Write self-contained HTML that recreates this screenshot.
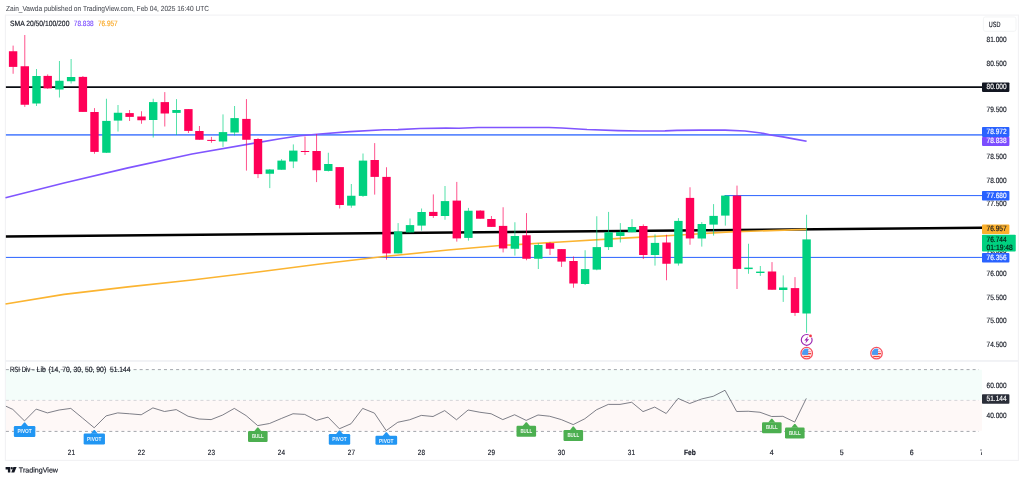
<!DOCTYPE html>
<html lang="en"><head><meta charset="utf-8"><title>TradingView chart snapshot</title>
<style>html,body{margin:0;padding:0;background:#fff;}body{width:1024px;height:480px;overflow:hidden;font-family:'Liberation Sans', Arial, sans-serif;}svg{display:block;position:absolute;left:0;top:0;}text{font-family:'Liberation Sans', Arial, sans-serif;white-space:pre;}</style></head><body>
<svg width="1024" height="480" viewBox="0 0 1024 480">
<rect x="0" y="0" width="1024" height="480" fill="#ffffff"/>
<text x="6" y="11" font-size="7.4" fill="#474a52" stroke="#474a52" stroke-width="0.05" text-anchor="start" font-weight="normal" transform="rotate(0.03 6 11)" textLength="203" lengthAdjust="spacingAndGlyphs">Zain_Vawda published on TradingView.com, Feb 04, 2025 16:40 UTC</text>
<rect x="5.4" y="15.1" width="1013" height="445.3" fill="none" stroke="#f2f2f4" stroke-width="1.1"/>
<rect x="5.4" y="360" width="1013" height="1.9" fill="#f1f2f5"/>
<rect x="5.9" y="369.75" width="976" height="30.5" fill="#f4fdfa"/>
<rect x="5.9" y="400.25" width="976" height="30.5" fill="#fef8f7"/>
<g fill="none" stroke-width="0.72">
<line x1="5.9" y1="369.6" x2="979" y2="369.6" stroke="#82858d" stroke-dasharray="3.0 3.08"/>
<line x1="5.9" y1="400.4" x2="979" y2="400.4" stroke="#c4c6cc" stroke-dasharray="3.0 3.08"/>
<line x1="5.9" y1="431.42" x2="979" y2="431.42" stroke="#82858d" stroke-dasharray="3.0 3.08"/>
</g>
<line x1="5.9" y1="87.1" x2="982" y2="87.1" stroke="#0a0c12" stroke-width="1.6"/>
<line x1="5.9" y1="134.8" x2="982" y2="134.8" stroke="#5f8bff" stroke-width="1.75"/>
<line x1="724.5" y1="195.6" x2="982" y2="195.6" stroke="#2962ff" stroke-width="1.0"/>
<line x1="5.9" y1="257.4" x2="982" y2="257.4" stroke="#2962ff" stroke-width="1.0"/>
<line x1="5.9" y1="236.6" x2="982" y2="227.8" stroke="#000000" stroke-width="2.5"/>
<polyline points="5.5,197.75 64,183 128,167.9 192,154 256,142.9 280,138.8 300,135.8 320,134 350,131.6 384,129.75 398,129.6 420,128.5 446,128.1 459,128.25 478,127.5 512,127.45 549,127.5 562,128 587,129.5 618,130.6 640,131 665,130.9 677,130.4 700,130.1 725,130.1 745,131 761,133 772,135.25 783,136.9 795,139.1 806.6,141.25" fill="none" stroke="#8055ff" stroke-width="1.65" stroke-linejoin="round" stroke-linecap="butt"/>
<polyline points="5.5,304 64,294.4 128,286.9 192,280 256,272.25 320,264 384,256.5 448,250 500,245.5 560,242 624,238.1 680,235 730,231.9 806.6,229.3" fill="none" stroke="#fbb431" stroke-width="1.7" stroke-linejoin="round" stroke-linecap="butt"/>
<g>
<rect x="12.65" y="45.6" width="0.9" height="28.15" fill="#FF0057" opacity="0.75"/>
<rect x="8.90" y="51.25" width="8.4" height="15.65" fill="#FF0057"/>
<rect x="24.35" y="35.0" width="0.9" height="71.90" fill="#FF0057" opacity="0.75"/>
<rect x="20.60" y="66.25" width="8.4" height="38.50" fill="#FF0057"/>
<rect x="36.05" y="69.0" width="0.9" height="37.00" fill="#00D180" opacity="0.75"/>
<rect x="32.30" y="76.0" width="8.4" height="27.50" fill="#00D180"/>
<rect x="47.25" y="74.4" width="0.9" height="14.40" fill="#FF0057" opacity="0.75"/>
<rect x="43.50" y="75.9" width="8.4" height="12.50" fill="#FF0057"/>
<rect x="58.95" y="61.0" width="0.9" height="36.50" fill="#00D180" opacity="0.75"/>
<rect x="55.20" y="80.75" width="8.4" height="8.75" fill="#00D180"/>
<rect x="70.65" y="59.0" width="0.9" height="24.50" fill="#00D180" opacity="0.75"/>
<rect x="66.90" y="77.0" width="8.4" height="4.25" fill="#00D180"/>
<rect x="82.45" y="76.0" width="0.9" height="35.90" fill="#FF0057" opacity="0.75"/>
<rect x="78.70" y="76.9" width="8.4" height="35.00" fill="#FF0057"/>
<rect x="94.05" y="108.1" width="0.9" height="45.65" fill="#FF0057" opacity="0.75"/>
<rect x="90.30" y="112.0" width="8.4" height="39.90" fill="#FF0057"/>
<rect x="105.95" y="98.75" width="0.9" height="54.25" fill="#00D180" opacity="0.75"/>
<rect x="102.20" y="120.9" width="8.4" height="31.85" fill="#00D180"/>
<rect x="117.55" y="105.0" width="0.9" height="26.50" fill="#00D180" opacity="0.75"/>
<rect x="113.80" y="112.75" width="8.4" height="7.85" fill="#00D180"/>
<rect x="129.15" y="110.0" width="0.9" height="11.00" fill="#FF0057" opacity="0.75"/>
<rect x="125.40" y="113.1" width="8.4" height="3.80" fill="#FF0057"/>
<rect x="141.05" y="111.25" width="0.9" height="12.50" fill="#FF0057" opacity="0.75"/>
<rect x="137.30" y="116.5" width="8.4" height="3.75" fill="#FF0057"/>
<rect x="152.75" y="98.75" width="0.9" height="38.75" fill="#00D180" opacity="0.75"/>
<rect x="149.00" y="102.1" width="8.4" height="17.90" fill="#00D180"/>
<rect x="164.35" y="92.1" width="0.9" height="34.40" fill="#FF0057" opacity="0.75"/>
<rect x="160.60" y="102.1" width="8.4" height="11.40" fill="#FF0057"/>
<rect x="176.05" y="99.1" width="0.9" height="35.90" fill="#00D180" opacity="0.75"/>
<rect x="172.30" y="110.0" width="8.4" height="2.90" fill="#00D180"/>
<rect x="187.95" y="109.1" width="0.9" height="23.90" fill="#FF0057" opacity="0.75"/>
<rect x="184.20" y="109.1" width="8.4" height="21.80" fill="#FF0057"/>
<rect x="198.95" y="126.0" width="0.9" height="13.75" fill="#FF0057" opacity="0.75"/>
<rect x="195.20" y="131.0" width="8.4" height="8.75" fill="#FF0057"/>
<rect x="210.95" y="136.9" width="0.9" height="5.85" fill="#FF0057" opacity="0.75"/>
<rect x="207.20" y="139.9" width="8.4" height="1.00" fill="#FF0057"/>
<rect x="222.55" y="114.4" width="0.9" height="32.50" fill="#00D180" opacity="0.75"/>
<rect x="218.80" y="132.1" width="8.4" height="9.40" fill="#00D180"/>
<rect x="234.15" y="106.0" width="0.9" height="29.60" fill="#00D180" opacity="0.75"/>
<rect x="230.40" y="118.1" width="8.4" height="14.40" fill="#00D180"/>
<rect x="245.95" y="99.1" width="0.9" height="71.50" fill="#FF0057" opacity="0.75"/>
<rect x="242.20" y="118.9" width="8.4" height="20.85" fill="#FF0057"/>
<rect x="257.55" y="138.1" width="0.9" height="40.00" fill="#FF0057" opacity="0.75"/>
<rect x="253.80" y="139.0" width="8.4" height="35.10" fill="#FF0057"/>
<rect x="269.35" y="169.0" width="0.9" height="19.10" fill="#00D180" opacity="0.75"/>
<rect x="265.60" y="169.5" width="8.4" height="4.25" fill="#00D180"/>
<rect x="281.15" y="159.1" width="0.9" height="10.65" fill="#00D180" opacity="0.75"/>
<rect x="277.40" y="160.6" width="8.4" height="9.15" fill="#00D180"/>
<rect x="292.85" y="144.4" width="0.9" height="23.70" fill="#00D180" opacity="0.75"/>
<rect x="289.10" y="150.6" width="8.4" height="10.90" fill="#00D180"/>
<rect x="304.55" y="136.5" width="0.9" height="18.50" fill="#FF0057" opacity="0.75"/>
<rect x="300.80" y="151.0" width="8.4" height="1.00" fill="#FF0057"/>
<rect x="316.15" y="134.1" width="0.9" height="48.00" fill="#FF0057" opacity="0.75"/>
<rect x="312.40" y="151.0" width="8.4" height="19.25" fill="#FF0057"/>
<rect x="327.85" y="152.75" width="0.9" height="18.75" fill="#00D180" opacity="0.75"/>
<rect x="324.10" y="164.0" width="8.4" height="6.90" fill="#00D180"/>
<rect x="339.25" y="167.1" width="0.9" height="41.40" fill="#FF0057" opacity="0.75"/>
<rect x="335.50" y="167.1" width="8.4" height="37.90" fill="#FF0057"/>
<rect x="350.85" y="184.0" width="0.9" height="23.75" fill="#00D180" opacity="0.75"/>
<rect x="347.10" y="195.75" width="8.4" height="9.85" fill="#00D180"/>
<rect x="362.55" y="153.5" width="0.9" height="43.40" fill="#00D180" opacity="0.75"/>
<rect x="358.80" y="160.6" width="8.4" height="35.30" fill="#00D180"/>
<rect x="374.25" y="143.1" width="0.9" height="51.50" fill="#FF0057" opacity="0.75"/>
<rect x="370.50" y="160.0" width="8.4" height="16.90" fill="#FF0057"/>
<rect x="386.05" y="167.25" width="0.9" height="92.35" fill="#FF0057" opacity="0.75"/>
<rect x="382.30" y="176.9" width="8.4" height="76.50" fill="#FF0057"/>
<rect x="397.65" y="223.1" width="0.9" height="30.30" fill="#00D180" opacity="0.75"/>
<rect x="393.90" y="231.4" width="8.4" height="22.00" fill="#00D180"/>
<rect x="409.55" y="218.5" width="0.9" height="13.90" fill="#00D180" opacity="0.75"/>
<rect x="405.80" y="225.1" width="8.4" height="7.30" fill="#00D180"/>
<rect x="421.15" y="208.5" width="0.9" height="22.10" fill="#00D180" opacity="0.75"/>
<rect x="417.40" y="212.0" width="8.4" height="13.60" fill="#00D180"/>
<rect x="432.85" y="194.4" width="0.9" height="23.50" fill="#FF0057" opacity="0.75"/>
<rect x="429.10" y="211.9" width="8.4" height="4.10" fill="#FF0057"/>
<rect x="444.55" y="186.0" width="0.9" height="33.75" fill="#00D180" opacity="0.75"/>
<rect x="440.80" y="201.1" width="8.4" height="14.90" fill="#00D180"/>
<rect x="456.35" y="181.9" width="0.9" height="59.70" fill="#FF0057" opacity="0.75"/>
<rect x="452.60" y="200.6" width="8.4" height="37.80" fill="#FF0057"/>
<rect x="467.95" y="207.9" width="0.9" height="32.70" fill="#00D180" opacity="0.75"/>
<rect x="464.20" y="210.75" width="8.4" height="27.15" fill="#00D180"/>
<rect x="479.75" y="210.2" width="0.9" height="8.55" fill="#FF0057" opacity="0.75"/>
<rect x="476.00" y="210.6" width="8.4" height="8.15" fill="#FF0057"/>
<rect x="490.95" y="216.0" width="0.9" height="10.90" fill="#FF0057" opacity="0.75"/>
<rect x="487.20" y="219.0" width="8.4" height="7.90" fill="#FF0057"/>
<rect x="502.65" y="207.25" width="0.9" height="45.15" fill="#FF0057" opacity="0.75"/>
<rect x="498.90" y="225.9" width="8.4" height="22.55" fill="#FF0057"/>
<rect x="514.45" y="222.25" width="0.9" height="33.35" fill="#00D180" opacity="0.75"/>
<rect x="510.70" y="236.0" width="8.4" height="12.75" fill="#00D180"/>
<rect x="526.05" y="213.1" width="0.9" height="47.15" fill="#FF0057" opacity="0.75"/>
<rect x="522.30" y="235.25" width="8.4" height="23.50" fill="#FF0057"/>
<rect x="537.85" y="243.1" width="0.9" height="25.90" fill="#00D180" opacity="0.75"/>
<rect x="534.10" y="245.0" width="8.4" height="13.75" fill="#00D180"/>
<rect x="549.55" y="241.9" width="0.9" height="13.10" fill="#FF0057" opacity="0.75"/>
<rect x="545.80" y="243.1" width="8.4" height="5.65" fill="#FF0057"/>
<rect x="561.15" y="249.1" width="0.9" height="17.80" fill="#FF0057" opacity="0.75"/>
<rect x="557.40" y="249.1" width="8.4" height="12.50" fill="#FF0057"/>
<rect x="573.05" y="256.5" width="0.9" height="31.25" fill="#FF0057" opacity="0.75"/>
<rect x="569.30" y="261.0" width="8.4" height="22.50" fill="#FF0057"/>
<rect x="584.65" y="250.25" width="0.9" height="34.75" fill="#00D180" opacity="0.75"/>
<rect x="580.90" y="269.1" width="8.4" height="14.90" fill="#00D180"/>
<rect x="596.35" y="216.25" width="0.9" height="54.00" fill="#00D180" opacity="0.75"/>
<rect x="592.60" y="247.1" width="8.4" height="22.50" fill="#00D180"/>
<rect x="608.15" y="211.9" width="0.9" height="38.10" fill="#00D180" opacity="0.75"/>
<rect x="604.40" y="232.25" width="8.4" height="14.85" fill="#00D180"/>
<rect x="619.85" y="223.1" width="0.9" height="19.40" fill="#00D180" opacity="0.75"/>
<rect x="616.10" y="232.1" width="8.4" height="3.90" fill="#00D180"/>
<rect x="631.55" y="219.1" width="0.9" height="13.15" fill="#00D180" opacity="0.75"/>
<rect x="627.80" y="227.0" width="8.4" height="5.25" fill="#00D180"/>
<rect x="642.85" y="224.4" width="0.9" height="34.60" fill="#FF0057" opacity="0.75"/>
<rect x="639.10" y="226.0" width="8.4" height="29.00" fill="#FF0057"/>
<rect x="654.55" y="234.4" width="0.9" height="31.20" fill="#00D180" opacity="0.75"/>
<rect x="650.80" y="242.9" width="8.4" height="12.10" fill="#00D180"/>
<rect x="666.05" y="234.75" width="0.9" height="45.50" fill="#FF0057" opacity="0.75"/>
<rect x="662.30" y="242.5" width="8.4" height="21.25" fill="#FF0057"/>
<rect x="677.95" y="218.1" width="0.9" height="47.50" fill="#00D180" opacity="0.75"/>
<rect x="674.20" y="220.9" width="8.4" height="42.60" fill="#00D180"/>
<rect x="689.55" y="187.25" width="0.9" height="57.50" fill="#FF0057" opacity="0.75"/>
<rect x="685.80" y="197.9" width="8.4" height="40.55" fill="#FF0057"/>
<rect x="701.35" y="222.1" width="0.9" height="24.50" fill="#00D180" opacity="0.75"/>
<rect x="697.60" y="224.0" width="8.4" height="14.50" fill="#00D180"/>
<rect x="713.15" y="204.1" width="0.9" height="31.50" fill="#00D180" opacity="0.75"/>
<rect x="709.40" y="215.9" width="8.4" height="8.70" fill="#00D180"/>
<rect x="724.85" y="195.25" width="0.9" height="30.35" fill="#00D180" opacity="0.75"/>
<rect x="721.10" y="195.6" width="8.4" height="20.00" fill="#00D180"/>
<rect x="736.55" y="185.6" width="0.9" height="103.40" fill="#FF0057" opacity="0.75"/>
<rect x="732.80" y="195.6" width="8.4" height="73.30" fill="#FF0057"/>
<rect x="748.05" y="243.75" width="0.9" height="30.00" fill="#00D180" opacity="0.75"/>
<rect x="744.30" y="267.6" width="8.4" height="1.50" fill="#00D180"/>
<rect x="759.85" y="266.0" width="0.9" height="9.90" fill="#00D180" opacity="0.75"/>
<rect x="756.10" y="271.6" width="8.4" height="1.40" fill="#00D180"/>
<rect x="771.55" y="262.1" width="0.9" height="27.65" fill="#FF0057" opacity="0.75"/>
<rect x="767.80" y="271.5" width="8.4" height="18.25" fill="#FF0057"/>
<rect x="782.75" y="275.4" width="0.9" height="26.50" fill="#00D180" opacity="0.75"/>
<rect x="779.00" y="287.5" width="8.4" height="2.50" fill="#00D180"/>
<rect x="794.55" y="277.1" width="0.9" height="38.80" fill="#FF0057" opacity="0.75"/>
<rect x="790.80" y="288.1" width="8.4" height="24.80" fill="#FF0057"/>
<rect x="806.15" y="214.75" width="0.9" height="118.00" fill="#00D180" opacity="0.75"/>
<rect x="802.40" y="239.4" width="8.4" height="74.10" fill="#00D180"/>
</g>
<g>
<circle cx="806.7" cy="339.9" r="5.4" fill="#ffffff" stroke="#9c27b0" stroke-width="1.15"/>
<path d="M808.1 336.3 L804.3 340.6 L806.4 340.6 L805.3 343.6 L809.1 339.2 L807 339.2 Z" fill="#9c27b0"/>
<circle cx="810.5" cy="335.9" r="2.1" fill="#ffffff"/><circle cx="810.5" cy="335.9" r="1.4" fill="#f23645"/>
<g transform="translate(806.7,353.2)">
<circle r="5.75" fill="#ffffff" stroke="#f7525f" stroke-width="1.3"/>
<clipPath id="fc806"><circle r="4.6"/></clipPath>
<g clip-path="url(#fc806)">
<rect x="-5" y="-5" width="10" height="10" fill="#ffffff"/>
<rect x="-5" y="-3.9" width="10" height="0.9" fill="#f7525f" opacity="0.6"/>
<rect x="-5" y="-2.1" width="10" height="1.0" fill="#f7525f" opacity="0.6"/>
<rect x="-5" y="-0.3" width="10" height="1.5" fill="#f44336"/>
<rect x="-5" y="2.6" width="10" height="1.5" fill="#f44336"/>
<rect x="-5" y="-5" width="6.5" height="6.7" fill="#4a9cf2"/>
</g></g>
<g transform="translate(876.5,353.2)">
<circle r="5.75" fill="#ffffff" stroke="#f7525f" stroke-width="1.3"/>
<clipPath id="fc876"><circle r="4.6"/></clipPath>
<g clip-path="url(#fc876)">
<rect x="-5" y="-5" width="10" height="10" fill="#ffffff"/>
<rect x="-5" y="-3.9" width="10" height="0.9" fill="#f7525f" opacity="0.6"/>
<rect x="-5" y="-2.1" width="10" height="1.0" fill="#f7525f" opacity="0.6"/>
<rect x="-5" y="-0.3" width="10" height="1.5" fill="#f44336"/>
<rect x="-5" y="2.6" width="10" height="1.5" fill="#f44336"/>
<rect x="-5" y="-5" width="6.5" height="6.7" fill="#4a9cf2"/>
</g></g>
</g>
<polyline points="5.9,406.2 12.799999999999999,409.4 24.5,420.9 36.2,409.1 47.400000000000006,412.9 59.1,410 70.8,408.4 82.60000000000001,418.1 94.2,427.75 106.10000000000001,415.9 117.7,412.9 129.29999999999998,413.75 141.2,414.75 152.89999999999998,407.9 164.5,411.5 176.2,409.6 188.1,416.25 199.1,419 211.1,419.6 222.7,415 234.29999999999998,408.4 246.1,415.6 257.7,425.6 269.5,423.5 281.3,418.5 293.0,413.75 304.7,414.4 316.3,420.4 328.0,417.1 339.4,428.75 351.0,423.75 362.7,408.4 374.4,413.1 386.2,430.6 397.8,422.25 409.7,419.75 421.3,415.4 433.0,416.5 444.7,410.6 456.5,419.75 468.09999999999997,410 479.9,412.25 491.09999999999997,413.75 502.8,419.6 514.6,414.75 526.2,420.4 538.0,415 549.7,416.25 561.3000000000001,419.6 573.2,424.6 584.8000000000001,418.75 596.5,409.75 608.3000000000001,404.4 620.0,404.4 631.7,402.25 643.0,411.6 654.7,407.1 666.2,413.5 678.1,398.4 689.7,403.5 701.5,399 713.3000000000001,396.25 725.0,390.25 736.7,411.5 748.2,411.25 760.0,412.25 771.7,416.5 782.9000000000001,416.3 794.7,422.1 806.3000000000001,398.4" fill="none" stroke="#5d606b" stroke-width="0.8" stroke-linejoin="round" stroke-linecap="butt"/>
<g><path d="M21.00 426.30 L24.10 422.50 L25.10 422.50 L28.20 426.30 Z" fill="#2196f3"/>
<rect x="13.85" y="426.00" width="21.5" height="10.90" rx="1.2" ry="1.2" fill="#2196f3"/>
<text x="24.60" y="433.05" transform="rotate(0.03 24.60 433.05)" font-size="5.8" font-weight="bold" fill="#ffffff" fill-opacity="0.9" text-anchor="middle" textLength="14.4" lengthAdjust="spacingAndGlyphs">PIVOT</text></g>
<g><path d="M90.70 433.80 L93.80 430.00 L94.80 430.00 L97.90 433.80 Z" fill="#2196f3"/>
<rect x="83.65" y="433.50" width="21.3" height="10.90" rx="1.2" ry="1.2" fill="#2196f3"/>
<text x="94.30" y="440.55" transform="rotate(0.03 94.30 440.55)" font-size="5.8" font-weight="bold" fill="#ffffff" fill-opacity="0.9" text-anchor="middle" textLength="14.4" lengthAdjust="spacingAndGlyphs">PIVOT</text></g>
<g><path d="M254.20 431.30 L257.30 427.50 L258.30 427.50 L261.40 431.30 Z" fill="#4caf50"/>
<rect x="248.00" y="431.00" width="19.6" height="10.90" rx="1.2" ry="1.2" fill="#4caf50"/>
<text x="257.80" y="438.05" transform="rotate(0.03 257.80 438.05)" font-size="5.8" font-weight="bold" fill="#ffffff" fill-opacity="0.9" text-anchor="middle" textLength="11.8" lengthAdjust="spacingAndGlyphs">BULL</text></g>
<g><path d="M335.90 434.30 L339.00 430.50 L340.00 430.50 L343.10 434.30 Z" fill="#2196f3"/>
<rect x="328.80" y="434.00" width="21.4" height="10.80" rx="1.2" ry="1.2" fill="#2196f3"/>
<text x="339.50" y="441.05" transform="rotate(0.03 339.50 441.05)" font-size="5.8" font-weight="bold" fill="#ffffff" fill-opacity="0.9" text-anchor="middle" textLength="14.4" lengthAdjust="spacingAndGlyphs">PIVOT</text></g>
<g><path d="M382.70 436.00 L385.80 432.20 L386.80 432.20 L389.90 436.00 Z" fill="#2196f3"/>
<rect x="375.45" y="435.70" width="21.7" height="9.10" rx="1.2" ry="1.2" fill="#2196f3"/>
<text x="386.30" y="442.75" transform="rotate(0.03 386.30 442.75)" font-size="5.8" font-weight="bold" fill="#ffffff" fill-opacity="0.9" text-anchor="middle" textLength="14.4" lengthAdjust="spacingAndGlyphs">PIVOT</text></g>
<g><path d="M522.70 426.05 L525.80 422.25 L526.80 422.25 L529.90 426.05 Z" fill="#4caf50"/>
<rect x="516.50" y="425.75" width="19.6" height="10.90" rx="1.2" ry="1.2" fill="#4caf50"/>
<text x="526.30" y="432.80" transform="rotate(0.03 526.30 432.80)" font-size="5.8" font-weight="bold" fill="#ffffff" fill-opacity="0.9" text-anchor="middle" textLength="11.8" lengthAdjust="spacingAndGlyphs">BULL</text></g>
<g><path d="M569.70 430.40 L572.80 426.60 L573.80 426.60 L576.90 430.40 Z" fill="#4caf50"/>
<rect x="563.50" y="430.10" width="19.6" height="10.90" rx="1.2" ry="1.2" fill="#4caf50"/>
<text x="573.30" y="437.15" transform="rotate(0.03 573.30 437.15)" font-size="5.8" font-weight="bold" fill="#ffffff" fill-opacity="0.9" text-anchor="middle" textLength="11.8" lengthAdjust="spacingAndGlyphs">BULL</text></g>
<g><path d="M768.20 422.55 L771.30 418.75 L772.30 418.75 L775.40 422.55 Z" fill="#4caf50"/>
<rect x="762.00" y="422.25" width="19.6" height="10.90" rx="1.2" ry="1.2" fill="#4caf50"/>
<text x="771.80" y="429.30" transform="rotate(0.03 771.80 429.30)" font-size="5.8" font-weight="bold" fill="#ffffff" fill-opacity="0.9" text-anchor="middle" textLength="11.8" lengthAdjust="spacingAndGlyphs">BULL</text></g>
<g><path d="M791.20 427.80 L794.30 424.00 L795.30 424.00 L798.40 427.80 Z" fill="#4caf50"/>
<rect x="785.00" y="427.50" width="19.6" height="10.90" rx="1.2" ry="1.2" fill="#4caf50"/>
<text x="794.80" y="434.55" transform="rotate(0.03 794.80 434.55)" font-size="5.8" font-weight="bold" fill="#ffffff" fill-opacity="0.9" text-anchor="middle" textLength="11.8" lengthAdjust="spacingAndGlyphs">BULL</text></g>
<text x="10" y="25.9" font-size="7.7" fill="#131722" stroke="#131722" stroke-width="0.16" text-anchor="start" font-weight="normal" transform="rotate(0.03 10 25.9)" textLength="59.4" lengthAdjust="spacingAndGlyphs">SMA 20/50/100/200</text>
<text x="73.8" y="25.9" font-size="7.7" fill="#7c4dff" stroke="#7c4dff" stroke-width="0.16" text-anchor="start" font-weight="normal" transform="rotate(0.03 73.8 25.9)" textLength="19.8" lengthAdjust="spacingAndGlyphs">78.838</text>
<text x="97.9" y="25.9" font-size="7.7" fill="#f9a825" stroke="#f9a825" stroke-width="0.16" text-anchor="start" font-weight="normal" transform="rotate(0.03 97.9 25.9)" textLength="19.8" lengthAdjust="spacingAndGlyphs">76.957</text>
<text y="372" font-size="7.7" fill="#131722" stroke="#131722" stroke-width="0.16" transform="rotate(0.03 10 372)"><tspan x="10" textLength="20.3" lengthAdjust="spacingAndGlyphs">RSI Div</tspan><tspan x="30.05"> - </tspan><tspan x="36.6" textLength="9.3" lengthAdjust="spacingAndGlyphs">Lib</tspan><tspan x="46.3"> </tspan><tspan x="48.5" textLength="57.7" lengthAdjust="spacingAndGlyphs">(14, 70, 30, 50, 90)</tspan></text>
<text x="110" y="372.0" font-size="7.7" fill="#131722" stroke="#131722" stroke-width="0.16" text-anchor="start" font-weight="normal" transform="rotate(0.03 110 372.0)" textLength="20.4" lengthAdjust="spacingAndGlyphs">51.144</text>
<rect x="983.4" y="16.9" width="32.6" height="14.4" rx="2" fill="#ffffff" stroke="#f0f1f3" stroke-width="0.8"/>
<text x="988.8" y="27.2" font-size="7.7" fill="#131722" stroke="#131722" stroke-width="0.16" text-anchor="start" font-weight="normal" transform="rotate(0.03 988.8 27.2)" textLength="11.6" lengthAdjust="spacingAndGlyphs">USD</text>
<text x="986.6" y="42.2" font-size="7.7" fill="#131722" stroke="#131722" stroke-width="0.16" text-anchor="start" font-weight="normal" transform="rotate(0.03 986.6 42.2)" textLength="20" lengthAdjust="spacingAndGlyphs">81.000</text>
<text x="986.6" y="65.61" font-size="7.7" fill="#131722" stroke="#131722" stroke-width="0.16" text-anchor="start" font-weight="normal" transform="rotate(0.03 986.6 65.61)" textLength="20" lengthAdjust="spacingAndGlyphs">80.500</text>
<text x="986.6" y="112.45" font-size="7.7" fill="#131722" stroke="#131722" stroke-width="0.16" text-anchor="start" font-weight="normal" transform="rotate(0.03 986.6 112.45)" textLength="20" lengthAdjust="spacingAndGlyphs">79.500</text>
<text x="986.6" y="159.27" font-size="7.7" fill="#131722" stroke="#131722" stroke-width="0.16" text-anchor="start" font-weight="normal" transform="rotate(0.03 986.6 159.27)" textLength="20" lengthAdjust="spacingAndGlyphs">78.500</text>
<text x="986.6" y="182.69" font-size="7.7" fill="#131722" stroke="#131722" stroke-width="0.16" text-anchor="start" font-weight="normal" transform="rotate(0.03 986.6 182.69)" textLength="20" lengthAdjust="spacingAndGlyphs">78.000</text>
<text x="986.6" y="206.1" font-size="7.7" fill="#131722" stroke="#131722" stroke-width="0.16" text-anchor="start" font-weight="normal" transform="rotate(0.03 986.6 206.1)" textLength="20" lengthAdjust="spacingAndGlyphs">77.500</text>
<text x="986.6" y="252.93" font-size="7.7" fill="#131722" stroke="#131722" stroke-width="0.16" text-anchor="start" font-weight="normal" transform="rotate(0.03 986.6 252.93)" textLength="20" lengthAdjust="spacingAndGlyphs">76.500</text>
<text x="986.6" y="276.35" font-size="7.7" fill="#131722" stroke="#131722" stroke-width="0.16" text-anchor="start" font-weight="normal" transform="rotate(0.03 986.6 276.35)" textLength="20" lengthAdjust="spacingAndGlyphs">76.000</text>
<text x="986.6" y="299.76" font-size="7.7" fill="#131722" stroke="#131722" stroke-width="0.16" text-anchor="start" font-weight="normal" transform="rotate(0.03 986.6 299.76)" textLength="20" lengthAdjust="spacingAndGlyphs">75.500</text>
<text x="986.6" y="323.18" font-size="7.7" fill="#131722" stroke="#131722" stroke-width="0.16" text-anchor="start" font-weight="normal" transform="rotate(0.03 986.6 323.18)" textLength="20" lengthAdjust="spacingAndGlyphs">75.000</text>
<text x="986.6" y="346.59" font-size="7.7" fill="#131722" stroke="#131722" stroke-width="0.16" text-anchor="start" font-weight="normal" transform="rotate(0.03 986.6 346.59)" textLength="20" lengthAdjust="spacingAndGlyphs">74.500</text>
<text x="986.6" y="387.8" font-size="7.7" fill="#131722" stroke="#131722" stroke-width="0.16" text-anchor="start" font-weight="normal" transform="rotate(0.03 986.6 387.8)" textLength="20" lengthAdjust="spacingAndGlyphs">60.000</text>
<text x="986.6" y="418.2" font-size="7.7" fill="#131722" stroke="#131722" stroke-width="0.16" text-anchor="start" font-weight="normal" transform="rotate(0.03 986.6 418.2)" textLength="20" lengthAdjust="spacingAndGlyphs">40.000</text>
<rect x="982" y="82.5" width="27.40" height="9.40" rx="0.8" fill="#131722"/>
<text x="986.6" y="89.25" font-size="7.7" fill="#ffffff" stroke="#ffffff" stroke-width="0.16" text-anchor="start" font-weight="normal" transform="rotate(0.03 986.6 89.25)" textLength="20" lengthAdjust="spacingAndGlyphs">80.000</text>
<rect x="982" y="136.9" width="27.40" height="9.00" rx="0.8" fill="#7c4dff"/>
<text x="986.6" y="143.45" font-size="7.7" fill="#ffffff" stroke="#ffffff" stroke-width="0.16" text-anchor="start" font-weight="normal" transform="rotate(0.03 986.6 143.45)" textLength="20" lengthAdjust="spacingAndGlyphs">78.838</text>
<rect x="982" y="127.1" width="27.40" height="9.80" rx="0.8" fill="#2962ff"/>
<text x="986.6" y="134.05" font-size="7.7" fill="#ffffff" stroke="#ffffff" stroke-width="0.16" text-anchor="start" font-weight="normal" transform="rotate(0.03 986.6 134.05)" textLength="20" lengthAdjust="spacingAndGlyphs">78.972</text>
<rect x="982" y="191.0" width="27.40" height="9.60" rx="0.8" fill="#2962ff"/>
<text x="986.6" y="197.85" font-size="7.7" fill="#ffffff" stroke="#ffffff" stroke-width="0.16" text-anchor="start" font-weight="normal" transform="rotate(0.03 986.6 197.85)" textLength="20" lengthAdjust="spacingAndGlyphs">77.680</text>
<rect x="982" y="224.6" width="27.40" height="9.40" rx="0.8" fill="#fbb02d"/>
<text x="986.6" y="231.35" font-size="7.7" fill="#131722" stroke="#131722" stroke-width="0.16" text-anchor="start" font-weight="normal" transform="rotate(0.03 986.6 231.35)" textLength="20" lengthAdjust="spacingAndGlyphs">76.957</text>
<rect x="982" y="234.75" width="33.75" height="16.85" rx="0.8" fill="#00d180"/>
<text x="986.6" y="242.3" font-size="7.7" fill="#06170f" stroke="#06170f" stroke-width="0.16" text-anchor="start" font-weight="normal" transform="rotate(0.03 986.6 242.3)" textLength="20" lengthAdjust="spacingAndGlyphs">76.744</text>
<text x="986.6" y="250.0" font-size="7.7" fill="#06170f" stroke="#06170f" stroke-width="0.16" text-anchor="start" font-weight="normal" transform="rotate(0.03 986.6 250.0)" textLength="26.2" lengthAdjust="spacingAndGlyphs">01:19:48</text>
<rect x="982" y="253.1" width="27.40" height="9.40" rx="0.8" fill="#2962ff"/>
<text x="986.6" y="259.85" font-size="7.7" fill="#ffffff" stroke="#ffffff" stroke-width="0.16" text-anchor="start" font-weight="normal" transform="rotate(0.03 986.6 259.85)" textLength="20" lengthAdjust="spacingAndGlyphs">76.356</text>
<rect x="982" y="394.25" width="27.40" height="9.50" rx="0.8" fill="#2a2e39"/>
<text x="986.6" y="401.05" font-size="7.7" fill="#ffffff" stroke="#ffffff" stroke-width="0.16" text-anchor="start" font-weight="normal" transform="rotate(0.03 986.6 401.05)" textLength="20" lengthAdjust="spacingAndGlyphs">51.144</text>
<text x="71.4" y="455.1" font-size="7.7" fill="#131722" stroke="#131722" stroke-width="0.16" text-anchor="middle" font-weight="normal" transform="rotate(0.03 71.4 455.1)" textLength="7.1" lengthAdjust="spacingAndGlyphs">21</text>
<text x="141.4" y="455.1" font-size="7.7" fill="#131722" stroke="#131722" stroke-width="0.16" text-anchor="middle" font-weight="normal" transform="rotate(0.03 141.4 455.1)" textLength="7.1" lengthAdjust="spacingAndGlyphs">22</text>
<text x="211.4" y="455.1" font-size="7.7" fill="#131722" stroke="#131722" stroke-width="0.16" text-anchor="middle" font-weight="normal" transform="rotate(0.03 211.4 455.1)" textLength="7.1" lengthAdjust="spacingAndGlyphs">23</text>
<text x="281.4" y="455.1" font-size="7.7" fill="#131722" stroke="#131722" stroke-width="0.16" text-anchor="middle" font-weight="normal" transform="rotate(0.03 281.4 455.1)" textLength="7.1" lengthAdjust="spacingAndGlyphs">24</text>
<text x="351.4" y="455.1" font-size="7.7" fill="#131722" stroke="#131722" stroke-width="0.16" text-anchor="middle" font-weight="normal" transform="rotate(0.03 351.4 455.1)" textLength="7.1" lengthAdjust="spacingAndGlyphs">27</text>
<text x="421.4" y="455.1" font-size="7.7" fill="#131722" stroke="#131722" stroke-width="0.16" text-anchor="middle" font-weight="normal" transform="rotate(0.03 421.4 455.1)" textLength="7.1" lengthAdjust="spacingAndGlyphs">28</text>
<text x="491.4" y="455.1" font-size="7.7" fill="#131722" stroke="#131722" stroke-width="0.16" text-anchor="middle" font-weight="normal" transform="rotate(0.03 491.4 455.1)" textLength="7.1" lengthAdjust="spacingAndGlyphs">29</text>
<text x="561.4" y="455.1" font-size="7.7" fill="#131722" stroke="#131722" stroke-width="0.16" text-anchor="middle" font-weight="normal" transform="rotate(0.03 561.4 455.1)" textLength="7.1" lengthAdjust="spacingAndGlyphs">30</text>
<text x="631.4" y="455.1" font-size="7.7" fill="#131722" stroke="#131722" stroke-width="0.16" text-anchor="middle" font-weight="normal" transform="rotate(0.03 631.4 455.1)" textLength="7.1" lengthAdjust="spacingAndGlyphs">31</text>
<text x="689.9" y="455.1" font-size="7.7" fill="#131722" stroke="#131722" stroke-width="0.16" text-anchor="middle" font-weight="bold" transform="rotate(0.03 689.9 455.1)" textLength="11.8" lengthAdjust="spacingAndGlyphs">Feb</text>
<text x="771.6" y="455.1" font-size="7.7" fill="#131722" stroke="#131722" stroke-width="0.16" text-anchor="middle" font-weight="normal" transform="rotate(0.03 771.6 455.1)" textLength="3.9" lengthAdjust="spacingAndGlyphs">4</text>
<text x="841.6" y="455.1" font-size="7.7" fill="#131722" stroke="#131722" stroke-width="0.16" text-anchor="middle" font-weight="normal" transform="rotate(0.03 841.6 455.1)" textLength="3.9" lengthAdjust="spacingAndGlyphs">5</text>
<text x="911.6" y="455.1" font-size="7.7" fill="#131722" stroke="#131722" stroke-width="0.16" text-anchor="middle" font-weight="normal" transform="rotate(0.03 911.6 455.1)" textLength="3.9" lengthAdjust="spacingAndGlyphs">6</text>
<clipPath id="tclip"><rect x="0" y="440" width="982.1" height="20"/></clipPath>
<g clip-path="url(#tclip)">
<text x="981.6" y="455.1" font-size="7.7" fill="#131722" stroke="#131722" stroke-width="0.16" text-anchor="middle" font-weight="normal" transform="rotate(0.03 981.6 455.1)" textLength="3.9" lengthAdjust="spacingAndGlyphs">7</text>
</g>
<g fill="#131722">
<path d="M5.6 467.1 H10.3 V472.5 H7.9 V469.4 H5.6 Z"/>
<circle cx="11.75" cy="468.25" r="1.15"/>
<path d="M13.4 467.1 H16.6 L14.3 472.5 H11.3 Z"/>
</g>
<text x="18.8" y="472.5" font-size="7.2" fill="#131722" stroke="#131722" stroke-width="0.16" text-anchor="start" font-weight="normal" transform="rotate(0.03 18.8 472.5)" textLength="39.2" lengthAdjust="spacingAndGlyphs">TradingView</text>
</svg>
</body></html>
